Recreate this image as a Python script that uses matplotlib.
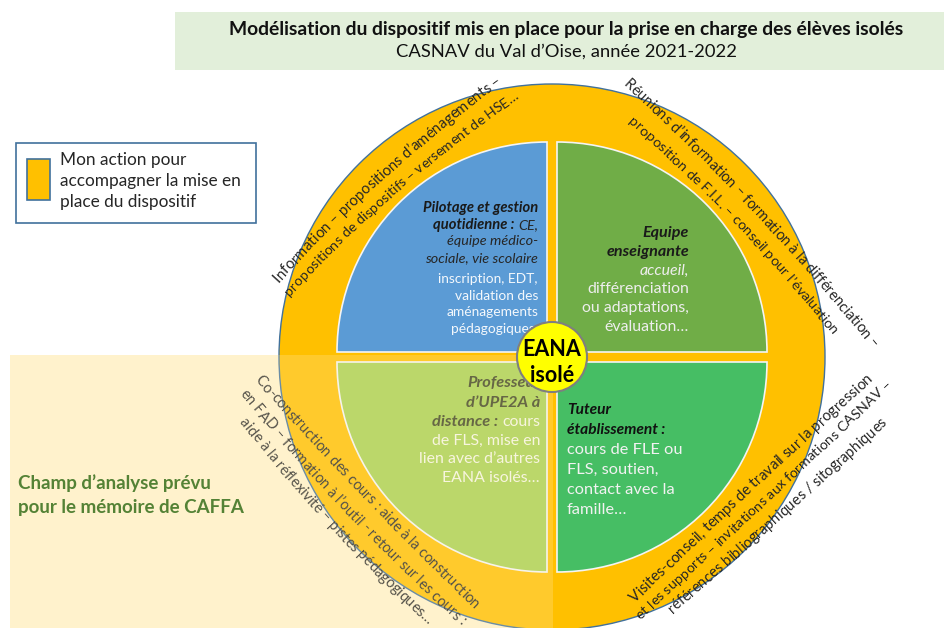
import math
import matplotlib
matplotlib.use("Agg")
import matplotlib.pyplot as plt
from matplotlib.patches import Rectangle, Circle, Wedge
from matplotlib.font_manager import FontProperties

W, H = 945, 628
FAM = ["Lato", "DejaVu Sans"]
plt.rcParams["font.family"] = FAM

# ---- texts of the diagram ----
title = "Modélisation du dispositif mis en place pour la prise en charge des élèves isolés"
subtitle = "CASNAV du Val d’Oise, année 2021-2022"
legend_lines = ["Mon action pour", "accompagner la mise en", "place du dispositif"]
field_lines = ["Champ d’analyse prévu", "pour le mémoire de CAFFA"]
center_lines = ["EANA", "isolé"]

# quadrant contents: list of lines, each line = list of (text, style)
pilotage = [
    [("Pilotage et gestion", "bi")],
    [("quotidienne :", "bi"), ("CE,", "i")],
    [("équipe médico-", "i")],
    [("sociale, vie scolaire", "i")],
    [("inscription, EDT,", "n")],
    [("validation des", "n")],
    [("aménagements", "n")],
    [("pédagogiques.", "n")],
]
equipe = [
    [("Equipe", "bi")],
    [("enseignante", "bi")],
    [("accueil,", "li")],
    [("différenciation", "n")],
    [("ou adaptations,", "n")],
    [("évaluation…", "n")],
]
professeur = [
    [("Professeur", "bi")],
    [("d’UPE2A à", "bi")],
    [("distance :", "bi"), ("cours", "n")],
    [("de FLS, mise en", "n")],
    [("lien avec d’autres", "n")],
    [("EANA isolés…", "n")],
]
tuteur = [
    [("Tuteur", "bi")],
    [("établissement :", "bi")],
    [("cours de FLE ou", "n")],
    [("FLS, soutien,", "n")],
    [("contact avec la", "n")],
    [("famille…", "n")],
]

# texts written along arcs around the ring
arc_labels = [
    "Information – propositions d’aménagements –",
    "propositions de dispositifs – versement de HSE…",
    "Réunions d’information – formation à la différenciation –",
    "proposition de F.I.L. – conseil pour l’évaluation",
    "Co-construction des cours : aide à la construction",
    "en FAD – formation à l’outil - retour sur les cours :",
    "aide à la réflexivité – pistes pédagogiques…",
    "Visites-conseil, temps de travail sur la progression",
    "et les supports – invitations aux formations CASNAV –",
    "références bibliographiques / sitographiques",
]

# ---- figure ----
fig = plt.figure(figsize=(W / 100, H / 100), dpi=100)
ax = fig.add_axes([0, 0, 1, 1])
ax.set_xlim(0, W)
ax.set_ylim(H, 0)
ax.axis("off")
rend = fig.canvas.get_renderer()


def fprop(size, style="n"):
    weight = "bold" if "b" in style else "normal"
    slant = "italic" if "i" in style else "normal"
    return FontProperties(family=FAM, size=size, weight=weight, style=slant)


def text_w(s, fp):
    return rend.get_text_width_height_descent(s, fp, ismath=False)[0]


def advance(c, fp):
    return text_w("l" + c + "l", fp) - text_w("ll", fp)


def draw_lines(lines, x, ys, align, sizes, colors, z=5):
    for segs, y in zip(lines, ys):
        fps = [fprop(sizes[st], st) for _, st in segs]
        widths = [text_w(t, fp) for (t, _), fp in zip(segs, fps)]
        gap = advance(" ", fps[0])
        total = sum(widths) + gap * (len(segs) - 1)
        x0 = x - total if align == "right" else x
        for (t, st), fp, w in zip(segs, fps, widths):
            ax.text(x0, y, t, fontproperties=fp, color=colors[st],
                    ha="left", va="center", zorder=z)
            x0 += w + gap


def circle3(p1, p2, p3):
    (x1, y1), (x2, y2), (x3, y3) = p1, p2, p3
    d = 2 * (x1 * (y2 - y3) + x2 * (y3 - y1) + x3 * (y1 - y2))
    a1, a2, a3 = x1**2 + y1**2, x2**2 + y2**2, x3**2 + y3**2
    ux = (a1 * (y2 - y3) + a2 * (y3 - y1) + a3 * (y1 - y2)) / d
    uy = (a1 * (x3 - x2) + a2 * (x1 - x3) + a3 * (x2 - x1)) / d
    return ux, uy, math.hypot(x1 - ux, y1 - uy)


def arc_text(s, p_start, p_mid, p_end, color, z=5, base=10):
    # work with y pointing up
    pts = [(px, H - py) for px, py in (p_start, p_mid, p_end)]
    ux, uy, r = circle3(*pts)
    ang = [math.atan2(py - uy, px - ux) for px, py in pts]
    two_pi = 2 * math.pi
    d_se = (ang[2] - ang[0]) % two_pi
    d_sm = (ang[1] - ang[0]) % two_pi
    delta = d_se if d_sm < d_se else -(two_pi - d_se)
    sgn = 1 if delta > 0 else -1
    length = r * abs(delta)
    fp0 = fprop(base)
    adv = [advance(c, fp0) for c in s]
    k = length / sum(adv)
    fs = base * k
    fp = fprop(fs)
    half_x = 0.26 * fs * 100 / 72  # half x-height, to sit chars on a baseline
    dist = 0.0
    for c, a in zip(s, adv):
        a *= k
        phi = ang[0] + sgn * (dist + a / 2) / r
        x = ux + r * math.cos(phi)
        y = H - (uy + r * math.sin(phi))
        rot = (math.degrees(phi) + sgn * 90 + 180) % 360 - 180
        rr = math.radians(rot)
        ax.text(x + math.sin(rr) * half_x, y + math.cos(rr) * half_x, c,
                fontproperties=fp, color=color, rotation=rot,
                rotation_mode="anchor", ha="center", va="baseline", zorder=z)
        dist += a


# background zones
ax.add_patch(Rectangle((10, 355), 543, 273, fc="#fff2cc", ec="none", zorder=0))
ax.add_patch(Rectangle((175, 12), 770, 58, fc="#e2efda", ec="none", zorder=1))
ax.text(566, 29, title, fontproperties=fprop(13.9, "b"), color="#111111",
        ha="center", va="center", zorder=2)
ax.text(566, 52, subtitle, fontproperties=fprop(13.2), color="#111111",
        ha="center", va="center", zorder=2)

# legend
ax.add_patch(Rectangle((16, 143), 240, 80, fc="white", ec="#41719c", lw=1.2, zorder=1))
ax.add_patch(Rectangle((27, 159), 23, 41, fc="#ffc000", ec="#41719c", lw=1.2, zorder=2))
for line, y in zip(legend_lines, [160, 181, 202]):
    ax.text(60, y, line, fontproperties=fprop(12.4), color="#262626",
            ha="left", va="center", zorder=2)

# ring and quadrants
cx, cy = 552, 357
ax.add_patch(Circle((cx, cy), 273, fc="#ffc000", ec="#41719c", lw=1, zorder=2))
quads = [
    ((cx - 5, cy - 5), 180, 270, "#5b9bd5"),
    ((cx + 5, cy - 5), 270, 360, "#70ad47"),
    ((cx + 5, cy + 5), 0, 90, "#46be64"),
    ((cx - 5, cy + 5), 90, 180, "#a9d04f"),
]
for corner, t1, t2, col in quads:
    ax.add_patch(Wedge(corner, 210, t1, t2, fc=col, ec="#f4f4f4", lw=1.2, zorder=3))

draw_lines(pilotage, 538, [208, 225, 241, 258, 279, 296, 312, 329], "right",
           {"bi": 10.6, "i": 10.4, "n": 9.9},
           {"bi": "#1a1a1a", "i": "#262626", "n": "#f4f8fc"})
draw_lines(equipe, 689, [233, 252, 271, 289, 308, 327], "right",
           {"bi": 11.6, "li": 11.4, "n": 11.4},
           {"bi": "#1a1a1a", "li": "#eeeeee", "n": "#eeeeee"})
draw_lines(professeur, 540, [383, 403, 422, 441, 459, 478], "right",
           {"bi": 11.8, "n": 11.4},
           {"bi": "#3c4020", "n": "#f6f6e4"})
draw_lines(tuteur, 567, [410, 430, 450, 470, 490, 510], "left",
           {"bi": 11.2, "n": 11.8},
           {"bi": "#111111", "n": "#f2f2f2"})

# arc texts
arc_paths = [
    ((276, 280), (405, 155), (500, 80)),
    ((287, 294), (418, 170), (517, 95)),
    ((625, 82), (760, 215), (875, 347)),
    ((630, 120), (737, 222), (835, 333)),
    ((257, 378), (370, 500), (477, 607)),
    ((242, 392), (348, 511), (463, 623)),
    ((242, 420), (332, 525), (430, 622)),
    ((632, 600), (742, 495), (871, 377)),
    ((638, 617), (768, 497), (890, 383)),
    ((670, 611), (781, 514), (885, 421)),
]
for label, (p1, p2, p3) in zip(arc_labels, arc_paths):
    arc_text(label, p1, p2, p3, "#262626")

# light veil of the analysis field over the lower-left part
ax.add_patch(Rectangle((10, 355), 543, 273, fc="#fff2cc", ec="none", alpha=0.22, zorder=6))
for line, y in zip(field_lines, [483, 508]):
    ax.text(18, y, line, fontproperties=fprop(13.5, "b"), color="#548235",
            ha="left", va="center", zorder=7)

# centre
ax.add_patch(Circle((cx, cy), 35, fc="#ffff00", ec="#7f7f7f", lw=1.5, zorder=8))
for line, y in zip(center_lines, [350, 376]):
    ax.text(cx, y, line, fontproperties=fprop(15.5, "b"), color="#000000",
            ha="center", va="center", zorder=9)

fig.savefig("out.png", dpi=100)
